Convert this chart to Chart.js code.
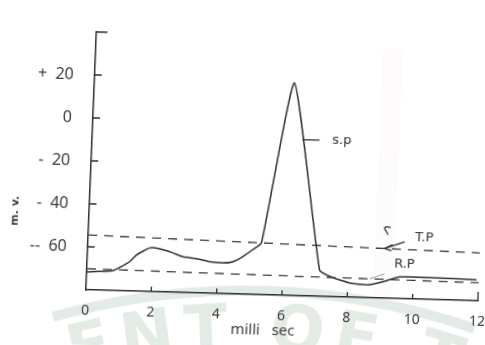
<!DOCTYPE html>
<html>
<head>
<meta charset="utf-8">
<script src="https://cdn.jsdelivr.net/npm/chart.js@4.4.0/dist/chart.umd.min.js"></script>
<style>
  html, body { margin: 0; padding: 0; background: #fff; }
  /* the scanned figure sits a little askew on the page */
  #c { display: block; transform-origin: 86px 290px; transform: matrix(1, 0.0282, -0.0407, 1, 0, 0); }
</style>
</head>
<body>
<canvas id="c" width="485" height="345"></canvas>
<script>
// spike potential (s.p), milli sec / m.v.
var spTime = [0, 0.79, 1.30, 1.51, 1.90, 2.20, 2.61, 2.92, 3.35, 3.75, 4.15, 4.45, 4.75, 5.05, 5.31, 6.12, 7.12, 7.44, 8.06, 8.61, 9.06, 9.58, 10.5, 11.93];
var spVolt = [-71.6, -70.8, -66.4, -63.1, -59.7, -60.0, -61.7, -63.4, -64.1, -65.4, -65.7, -65.1, -62.6, -59.2, -55.9, 18.9, -67.7, -70.6, -73.4, -74.0, -72.4, -69.9, -69.9, -70.2];

// threshold potential (T.P) and resting potential (R.P)
var tpTime = [0, 12];
var tpVolt = [-54.5, -57.7];
var rpTime = [0, 12];
var rpVolt = [-70.2, -71.6];

var xTicks = [0, 2, 4, 6, 8, 10, 12];
var xLabels = ['0', '2', '4', '6', '8', '10', '12'];
var yTicks = [20, 0, -20, -40, -60];
var yLabels = ['+  20', '0', '-  20', '-  40', '--  60'];

var ink = '#2f2f2f';

function pts(xs, ys) {
    return xs.map(function(x, i) { return {x: x, y: ys[i]}; });
}

var extras = {
    id: 'extras',
    beforeDraw: function(chart) {
        var ctx = chart.ctx;
        ctx.save();
        ctx.fillStyle = '#fff';
        ctx.fillRect(0, 0, chart.width, chart.height);
        // faint paper fold
        ctx.fillStyle = 'rgba(235,190,205,0.06)';
        ctx.fillRect(373, 40, 20, 255);
        // watermark seal, only its top edge shows
        var cx = 265, cy = 1000;
        ctx.strokeStyle = '#e4ebe6';
        ctx.lineWidth = 10;
        ctx.beginPath();
        ctx.arc(cx, cy, 714, -Math.PI / 2 - 0.3, -Math.PI / 2 + 0.3);
        ctx.stroke();
        ctx.fillStyle = '#e3ebe5';
        ctx.font = 'bold 64px "DejaVu Sans"';
        ctx.textAlign = 'center';
        ctx.textBaseline = 'middle';
        var word = 'ENT OF T';
        var a = -0.3;
        for (var i = 0; i < word.length; i++) {
            var w = ctx.measureText(word[i]).width + 10;
            a += (w / 2) / 672;
            ctx.save();
            ctx.translate(cx + 672 * Math.sin(a), cy - 672 * Math.cos(a));
            ctx.rotate(a);
            ctx.fillText(word[i], 0, 0);
            ctx.restore();
            a += (w / 2) / 672;
        }
        ctx.restore();
    },
    afterDraw: function(chart) {
        var ctx = chart.ctx, xs = chart.scales.x, ys = chart.scales.y;
        var area = chart.chartArea;
        var px = function(t) { return xs.getPixelForValue(t); };
        var py = function(v) { return ys.getPixelForValue(v); };
        ctx.save();
        ctx.strokeStyle = ink;
        ctx.lineWidth = 1.3;
        ctx.beginPath();
        // ticks point inwards
        yTicks.concat([40]).forEach(function(v) {
            ctx.moveTo(area.left, py(v));
            ctx.lineTo(area.left + (v === 40 ? 11 : 7), py(v));
        });
        xTicks.forEach(function(t) {
            if (t === 0) return;
            ctx.moveTo(px(t), area.bottom);
            ctx.lineTo(px(t), area.bottom - (t === 12 ? 9 : 5));
        });
        // leaders
        ctx.moveTo(px(6.44), py(-7.4));
        ctx.lineTo(px(6.96), py(-7.4));
        ctx.moveTo(px(9.08), py(-56.9));
        ctx.lineTo(px(9.69), py(-53.5));
        ctx.moveTo(px(9.08) + 8, py(-56.9) - 4);
        ctx.lineTo(px(9.08), py(-56.9));
        ctx.lineTo(px(9.08) + 7, py(-56.9) + 2);
        ctx.stroke();
        // little hook above the T.P arrow
        var hx = px(9.15), hy = py(-48.6);
        ctx.beginPath();
        ctx.moveTo(hx + 1, hy + 4);
        ctx.lineTo(hx - 3, hy - 2);
        ctx.quadraticCurveTo(hx - 3, hy - 5, hx + 3, hy - 3);
        ctx.stroke();
        ctx.strokeStyle = '#9a9a9a';
        ctx.lineWidth = 1;
        ctx.beginPath();
        ctx.moveTo(px(8.66), py(-71.2));
        ctx.lineTo(px(9.11), py(-68.7));
        ctx.stroke();

        ctx.fillStyle = ink;
        ctx.textBaseline = 'middle';
        ctx.textAlign = 'left';
        ctx.font = '13px "DejaVu Sans"';
        ctx.fillText('s.p', px(7.35), py(-7.4));
        ctx.fillText('T.P', px(10.0), py(-51.4));
        ctx.textAlign = 'center';
        ctx.fillText('R.P', px(9.71), py(-64.2));

        // axis titles
        ctx.font = '15px "Noto Sans"';
        ctx.fillStyle = '#3a3a3a';
        ctx.fillText('milli   sec', 264, 326);
        ctx.save();
        ctx.translate(12, 213);
        ctx.rotate(-Math.PI / 2);
        ctx.font = 'bold 11px "DejaVu Sans"';
        ctx.fillText('m. v.', 0, 0);
        ctx.restore();
        ctx.restore();
    }
};

new Chart(document.getElementById('c'), {
    type: 'line',
    data: {
        datasets: [
            {
                label: 'S.P',
                data: pts(spTime, spVolt),
                borderColor: ink,
                borderWidth: 1.5,
                tension: 0.15,
                pointRadius: 0,
                fill: false
            },
            {
                label: 'T.P',
                data: pts(tpTime, tpVolt),
                borderColor: '#3a3a3a',
                borderWidth: 1.3,
                borderDash: [9, 7],
                pointRadius: 0,
                fill: false
            },
            {
                label: 'R.P',
                data: pts(rpTime, rpVolt),
                borderColor: '#3a3a3a',
                borderWidth: 1.3,
                borderDash: [9, 7],
                pointRadius: 0,
                fill: false
            }
        ]
    },
    options: {
        responsive: false,
        animation: false,
        devicePixelRatio: 1,
        layout: {padding: {left: 0, right: 7, top: 32, bottom: 0}},
        plugins: {legend: {display: false}, tooltip: {enabled: false}},
        scales: {
            x: {
                type: 'linear',
                min: 0,
                max: 12,
                grid: {display: false, drawTicks: false},
                border: {display: true, color: ink, width: 1.5},
                afterBuildTicks: function(s) { s.ticks = xTicks.map(function(v) { return {value: v}; }); },
                afterFit: function(s) { s.height = 55; s.paddingLeft = 0; s.paddingRight = 0; },
                ticks: {
                    padding: 13,
                    color: '#3a3a3a',
                    font: {family: 'Noto Sans', size: 14},
                    maxRotation: 0,
                    callback: function(v) { return xLabels[xTicks.indexOf(v)]; }
                }
            },
            y: {
                min: -80,
                max: 40,
                grid: {display: false, drawTicks: false},
                border: {display: true, color: ink, width: 1.5},
                afterBuildTicks: function(s) { s.ticks = yTicks.map(function(v) { return {value: v}; }); },
                afterFit: function(s) { s.width = 86; s.paddingTop = 0; s.paddingBottom = 0; },
                ticks: {
                    padding: 21,
                    color: '#3a3a3a',
                    font: {family: 'Noto Sans', size: 16},
                    callback: function(v) { return yLabels[yTicks.indexOf(v)]; }
                }
            }
        }
    },
    plugins: [extras]
});
</script>
</body>
</html>
